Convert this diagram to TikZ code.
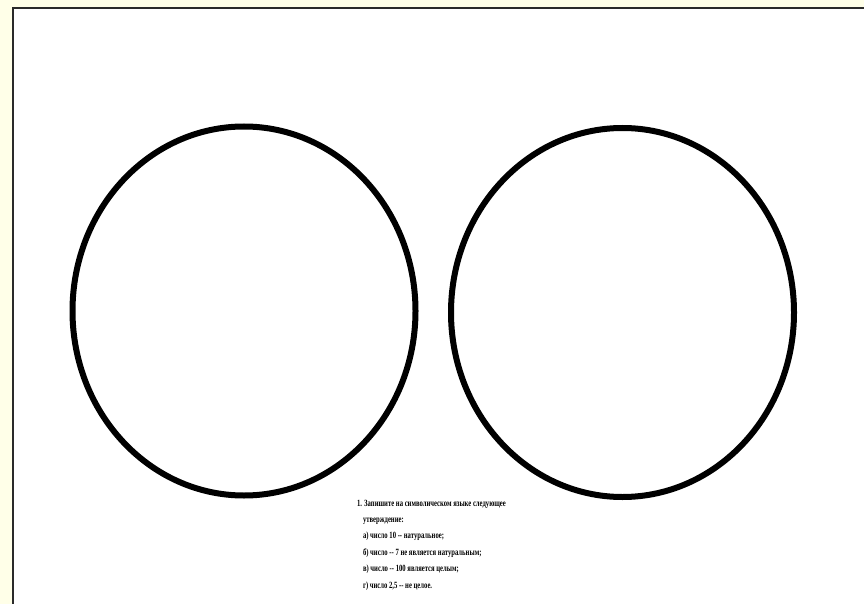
\documentclass[tikz,border=0pt]{standalone}
\usepackage{fontspec}
\usepackage{xcolor}
\usepackage{tikz}
\usetikzlibrary{shapes.geometric, positioning}
\newfontfamily\narrowfont[FakeStretch=0.7]{Liberation Serif}
\definecolor{pagecream}{HTML}{FFFFE8}
\definecolor{frameline}{HTML}{2A2A2A}

\begin{document}
\begin{tikzpicture}[x=1pt, y=-1pt, every node/.style={inner sep=0pt, outer sep=0pt}]
  % Styles
  \tikzset{
    ring/.style={ellipse, draw=black, line width=6pt, minimum width=343pt, minimum height=369pt},
    task/.style={align=left, anchor=base west, font=\narrowfont\bfseries\fontsize{9.5}{16.4}\selectfont}
  }

  % Page
  \fill[pagecream] (0,0) rectangle (864,604);
  \useasboundingbox (0,0) rectangle (864,604);
  \draw[frameline, line width=2pt, fill=white] (13,8) -- (13,606) -- (866,606) -- (866,8) -- cycle;

  % Circles
  \node (leftring) [ring] at (244,311) {};
  \node (rightring) [ring] at (622.5,312.5) {};

  % Task text (base = last line)
  \node (task) [task] at (357,588) {1. Запишите на символическом языке следующее\\
    \hspace*{6pt}утверждение:\\
    \hspace*{6pt}а) число 10 -- натуральное;\\
    \hspace*{6pt}б) число -- 7 не является натуральным;\\
    \hspace*{6pt}в) число -- 100 является целым;\\
    \hspace*{6pt}г) число 2,5 -- не целое.};
\end{tikzpicture}
\end{document}
